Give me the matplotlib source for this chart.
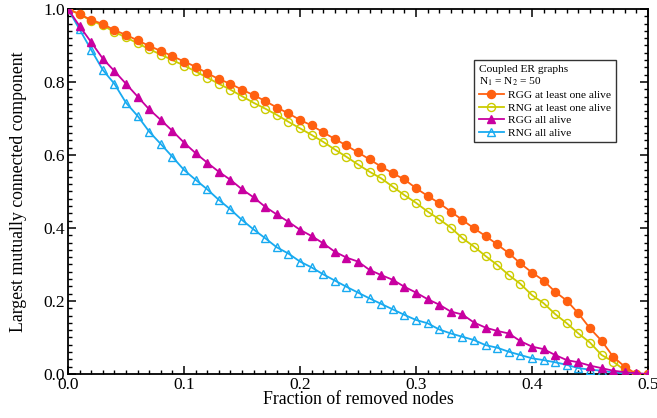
import numpy as np
import matplotlib
matplotlib.use('Agg')
import matplotlib.pyplot as plt
from matplotlib.ticker import MultipleLocator

plt.rcParams['font.family'] = ['Liberation Serif', 'DejaVu Serif']
plt.rcParams['mathtext.fontset'] = 'stix'

# fraction of removed nodes
frac = np.linspace(0.0, 0.5, 51)

rgg_one = [1.000, 0.986, 0.970, 0.959, 0.942, 0.929, 0.914, 0.899, 0.885, 0.871,
           0.856, 0.842, 0.824, 0.808, 0.795, 0.779, 0.764, 0.748, 0.730, 0.714,
           0.696, 0.681, 0.662, 0.644, 0.626, 0.607, 0.588, 0.568, 0.550, 0.533,
           0.509, 0.488, 0.468, 0.445, 0.422, 0.399, 0.378, 0.355, 0.331, 0.303,
           0.278, 0.256, 0.225, 0.201, 0.166, 0.125, 0.091, 0.047, 0.020, 0.000,
           0.000]
rng_one = [1.000, 0.985, 0.968, 0.955, 0.937, 0.922, 0.906, 0.890, 0.875, 0.860,
           0.845, 0.829, 0.812, 0.795, 0.779, 0.761, 0.743, 0.727, 0.710, 0.691,
           0.673, 0.655, 0.636, 0.615, 0.595, 0.574, 0.554, 0.536, 0.513, 0.490,
           0.469, 0.445, 0.424, 0.401, 0.372, 0.349, 0.323, 0.299, 0.271, 0.247,
           0.216, 0.194, 0.164, 0.139, 0.111, 0.086, 0.052, 0.034, 0.010, 0.000,
           0.000]
rgg_all = [1.000, 0.953, 0.909, 0.864, 0.830, 0.795, 0.760, 0.725, 0.696, 0.666,
           0.634, 0.605, 0.579, 0.554, 0.532, 0.506, 0.484, 0.458, 0.437, 0.417,
           0.395, 0.378, 0.358, 0.335, 0.319, 0.308, 0.285, 0.271, 0.258, 0.239,
           0.223, 0.205, 0.190, 0.171, 0.163, 0.141, 0.127, 0.118, 0.111, 0.090,
           0.075, 0.068, 0.052, 0.038, 0.032, 0.023, 0.016, 0.009, 0.005, 0.002,
           0.000]
rng_all = [1.000, 0.944, 0.888, 0.833, 0.795, 0.743, 0.707, 0.664, 0.630, 0.595,
           0.559, 0.532, 0.506, 0.477, 0.451, 0.422, 0.396, 0.372, 0.347, 0.330,
           0.308, 0.292, 0.273, 0.256, 0.239, 0.223, 0.207, 0.192, 0.177, 0.162,
           0.148, 0.139, 0.122, 0.111, 0.102, 0.093, 0.079, 0.072, 0.061, 0.052,
           0.043, 0.038, 0.032, 0.025, 0.016, 0.012, 0.009, 0.004, 0.002, 0.001,
           0.000]

fig = plt.figure(figsize=(6.57, 4.18), dpi=100)
ax = fig.add_axes([0.1035, 0.1053, 0.8828, 0.8732])

ms = 5.8
ax.plot(frac, rng_one, '-o', color='#cccc00', mfc='none', mec='#cccc00', ms=ms, mew=1.0,
        lw=1.3, label='RNG at least one alive', zorder=2)
ax.plot(frac, rgg_one, '-o', color='#ff6010', ms=ms, lw=1.3,
        label='RGG at least one alive', zorder=3)
ax.plot(frac, rng_all, '-^', color='#18aaf0', mfc='none', mec='#18aaf0', ms=ms, mew=1.0,
        lw=1.3, label='RNG all alive', zorder=4)
ax.plot(frac, rgg_all, '-^', color='#c800a0', ms=ms, lw=1.3,
        label='RGG all alive', zorder=5)

ax.set_xlim(0, 0.5)
ax.set_ylim(0, 1.0)
ax.xaxis.set_major_locator(MultipleLocator(0.1))
ax.xaxis.set_minor_locator(MultipleLocator(0.01))
ax.yaxis.set_major_locator(MultipleLocator(0.2))
ax.yaxis.set_minor_locator(MultipleLocator(0.02))
ax.xaxis.set_major_formatter(plt.FormatStrFormatter('%.1f'))
ax.yaxis.set_major_formatter(plt.FormatStrFormatter('%.1f'))
ax.tick_params(which='both', direction='in', top=True, right=True, labelsize=12.5)
ax.tick_params(which='major', length=6, width=1.1, pad=2)
ax.tick_params(which='minor', length=3, width=1.0)
for s in ax.spines.values():
    s.set_linewidth(1.3)

ax.set_xlabel('Fraction of removed nodes', fontsize=12.8, labelpad=-1)
ax.set_ylabel('Largest mutually connected component', fontsize=12.8, labelpad=12)

handles, labs = ax.get_legend_handles_labels()
order = [1, 0, 3, 2]
leg = ax.legend([handles[i] for i in order], [labs[i] for i in order],
                title='Coupled ER graphs\nN$_1$ = N$_2$ = 50',
                loc='upper left', bbox_to_anchor=(0.700, 0.860), borderaxespad=0,
                fontsize=8.2, title_fontsize=8.2, frameon=True, fancybox=False,
                edgecolor='black', handlelength=2.2, handletextpad=0.4,
                borderpad=0.4, labelspacing=0.22, markerscale=1.0)
leg.get_frame().set_linewidth(1.0)
leg._legend_box.align = 'left'

fig.savefig('out.png', dpi=100)
